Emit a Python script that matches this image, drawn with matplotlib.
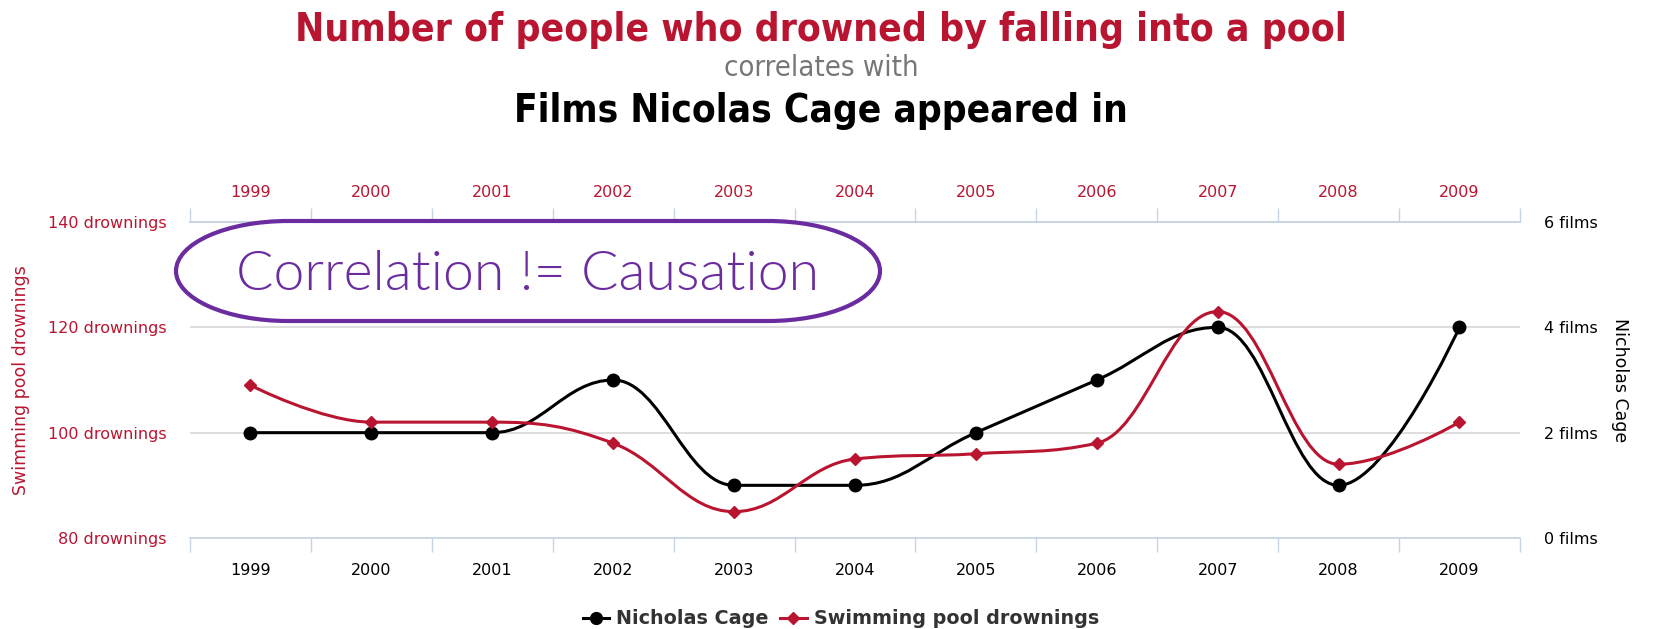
import numpy as np
import matplotlib
matplotlib.use("Agg")
import matplotlib.pyplot as plt
from matplotlib.path import Path
from matplotlib.patches import PathPatch
from matplotlib.lines import Line2D
from matplotlib.transforms import Affine2D

years = ["1999", "2000", "2001", "2002", "2003", "2004", "2005", "2006", "2007", "2008", "2009"]
cage_films = [2, 2, 2, 3, 1, 1, 2, 3, 4, 1, 4]
pool_drownings = [109, 102, 102, 98, 85, 95, 96, 98, 123, 94, 102]

RED = "#B91531"
PURPLE = "#6A2C9F"
AXIS_BLUE = "#C8D4E3"
GRID = "#D8D8D8"


def spline_path(xs, ys, smoothing=1.5):
    # highcharts-style spline: cubic bezier with clamped control points
    n = len(xs)
    denom = smoothing + 1
    left = [None] * n
    right = [None] * n
    for i in range(1, n - 1):
        lx, ly = xs[i - 1], ys[i - 1]
        px, py = xs[i], ys[i]
        nx, ny = xs[i + 1], ys[i + 1]
        lcx = (smoothing * px + lx) / denom
        lcy = (smoothing * py + ly) / denom
        rcx = (smoothing * px + nx) / denom
        rcy = (smoothing * py + ny) / denom
        if rcx != lcx:
            corr = ((rcy - lcy) * (rcx - px)) / (rcx - lcx) + py - rcy
            lcy += corr
            rcy += corr
        if lcy > ly and lcy > py:
            lcy = max(ly, py)
            rcy = 2 * py - lcy
        elif lcy < ly and lcy < py:
            lcy = min(ly, py)
            rcy = 2 * py - lcy
        if rcy > ny and rcy > py:
            rcy = max(ny, py)
            lcy = 2 * py - rcy
        elif rcy < ny and rcy < py:
            rcy = min(ny, py)
            lcy = 2 * py - rcy
        left[i] = (lcx, lcy)
        right[i] = (rcx, rcy)
    verts = [(xs[0], ys[0])]
    codes = [Path.MOVETO]
    for i in range(1, n):
        c1 = right[i - 1] or (xs[i - 1], ys[i - 1])
        c2 = left[i] or (xs[i], ys[i])
        verts += [c1, c2, (xs[i], ys[i])]
        codes += [Path.CURVE4] * 3
    return Path(verts, codes)


def stadium(x0, y0, x1, y1, rx):
    # box with half-ellipse ends, in pixel coords
    ry = (y1 - y0) / 2
    cy = y0 + ry
    right_arc = Path.arc(-90, 90).transformed(Affine2D().scale(rx, ry).translate(x1 - rx, cy))
    left_arc = Path.arc(90, 270).transformed(Affine2D().scale(rx, ry).translate(x0 + rx, cy))
    verts = list(right_arc.vertices) + list(left_arc.vertices) + [right_arc.vertices[0]]
    codes = list(right_arc.codes) + [Path.LINETO] + list(left_arc.codes[1:]) + [Path.LINETO]
    return Path(verts, codes)


fig = plt.figure(figsize=(16.55, 6.29), dpi=100)
ax2 = fig.add_axes([0.1148, 0.1447, 0.8036, 0.5023])
ax = ax2.twinx()
x = np.arange(len(years))

# films axis (right) sits behind, carries the grid
ax2.set_xlim(-0.5, len(years) - 0.5)
ax2.set_ylim(0, 6)
ax2.yaxis.tick_right()
ax2.set_yticks([0, 2, 4, 6])
ax2.set_yticklabels(["0 films", "2 films", "4 films", "6 films"])
ax2.tick_params(axis="y", length=0, pad=17, labelsize=11.5, labelcolor="black")
ax2.yaxis.grid(True, color=GRID, linewidth=1.2)
ax2.set_axisbelow(True)
ax2.set_xticks(x)
ax2.set_xticklabels(years)
ax2.set_xticks(np.arange(-0.5, len(years)), minor=True)
ax2.tick_params(axis="x", which="major", length=0, pad=18, labelsize=11.5, labelcolor="black")
ax2.tick_params(axis="x", which="minor", length=10, width=1, color=AXIS_BLUE, direction="out")
for s in ["left", "right"]:
    ax2.spines[s].set_visible(False)
for s in ["top", "bottom"]:
    ax2.spines[s].set_color(AXIS_BLUE)
    ax2.spines[s].set_linewidth(1.2)

# top year axis in red
top = ax2.secondary_xaxis("top")
top.set_xticks(x)
top.set_xticklabels(years)
top.set_xticks(np.arange(-0.5, len(years)), minor=True)
top.tick_params(axis="x", which="major", length=0, pad=16, labelsize=11.5, labelcolor=RED)
top.tick_params(axis="x", which="minor", length=10, width=1, color=AXIS_BLUE, direction="out")
top.spines["top"].set_color(AXIS_BLUE)
top.spines["top"].set_linewidth(1.2)

ax2.add_patch(PathPatch(spline_path(x, cage_films), fill=False, edgecolor="black",
                        linewidth=2.2, capstyle="round", joinstyle="round"))
ax2.plot(x, cage_films, linestyle="none", marker="o", markersize=9, color="black")

# drownings axis (left) on top
ax.set_zorder(ax2.get_zorder() + 1)
ax.patch.set_visible(False)
ax.set_ylim(80, 140)
ax.yaxis.tick_left()
ax.set_yticks([80, 100, 120, 140])
ax.set_yticklabels(["80 drownings", "100 drownings", "120 drownings", "140 drownings"])
ax.tick_params(axis="y", length=0, pad=17, labelsize=11.5, labelcolor=RED)
for s in ax.spines.values():
    s.set_visible(False)
ax.add_patch(PathPatch(spline_path(x, pool_drownings), fill=False, edgecolor=RED,
                       linewidth=2.2, capstyle="round", joinstyle="round"))
ax.plot(x, pool_drownings, linestyle="none", marker="D", markersize=6.5, color=RED)

# titles
fig.text(0.496, 0.953, "Number of people who drowned by falling into a pool", ha="center", va="center",
         fontsize=28, fontweight="bold", fontstretch="condensed", color=RED)
fig.text(0.496, 0.892, "correlates with", ha="center", va="center",
         fontsize=21, fontstretch="condensed", color="#777777")
fig.text(0.496, 0.823, "Films Nicolas Cage appeared in", ha="center", va="center",
         fontsize=27.8, fontweight="bold", fontstretch="condensed", color="black")

fig.text(0.0127, 0.396, "Swimming pool drownings", rotation=90, ha="center", va="center",
         fontsize=12.5, color=RED)
fig.text(0.979, 0.396, "Nicholas Cage", rotation=-90, ha="center", va="center",
         fontsize=12.5, color="black")

# stadium-shaped callout (pixel coords, origin bottom-left)
fig.patches.append(PathPatch(stadium(176, 629 - 321, 880, 629 - 221, 112), transform=None,
                             fill=False, edgecolor=PURPLE, linewidth=3))
fig.text(528 / 1655, 1 - 275 / 629, "Correlation != Causation", ha="center", va="center",
         fontsize=40, family="Lato", fontweight=300, color=PURPLE)

handles = [
    Line2D([], [], color="black", linewidth=2.2, marker="o", markersize=8.5),
    Line2D([], [], color=RED, linewidth=2.2, marker="D", markersize=6.5),
]
leg = fig.legend(handles, ["Nicholas Cage", "Swimming pool drownings"], loc="center",
                 bbox_to_anchor=(0.508, 0.016), ncol=2, frameon=False, handlelength=1.4,
                 handletextpad=0.35, columnspacing=0.6,
                 prop={"size": 13.8, "weight": "bold"})
for t in leg.get_texts():
    t.set_color("#333333")

fig.savefig("out.png", dpi=100)
